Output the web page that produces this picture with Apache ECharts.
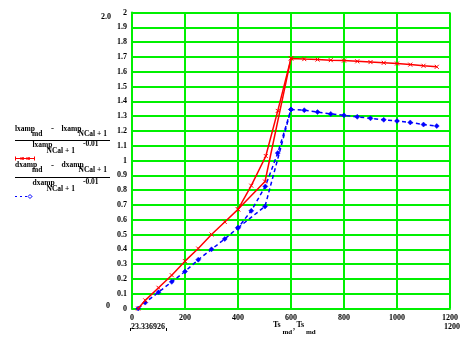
<!DOCTYPE html>
<html>
<head>
<meta charset="utf-8">
<script src="https://cdn.jsdelivr.net/npm/echarts@6/dist/echarts.min.js"></script>
<style>
html,body{margin:0;padding:0;background:#fff;}
#c{width:474px;height:337px;}
</style>
</head>
<body>
<div id="c"></div>
<script>
// ---- data ----
var xTicks = [0, 200, 400, 600, 800, 1000, 1200];
var redX = [23.336926, 50, 100, 150, 200, 250, 300, 350, 400, 450, 505, 550, 600, 650, 700, 750, 800, 850, 900, 950, 1000, 1050, 1100, 1150];
var redY = [0, 0.055, 0.14, 0.225, 0.32, 0.405, 0.5, 0.585, 0.67, 0.83, 1.03, 1.335, 1.69, 1.685, 1.682, 1.678, 1.675, 1.67, 1.665, 1.66, 1.655, 1.648, 1.64, 1.633];
var redBranchX = [400, 502, 600];
var redBranchY = [0.67, 0.858, 1.69];
var blueX = [23.336926, 50, 100, 150, 200, 250, 300, 350, 400, 450, 503, 550, 600, 650, 700, 750, 800, 850, 900, 950, 1000, 1050, 1100, 1150];
var blueY = [0, 0.04, 0.11, 0.18, 0.25, 0.33, 0.4, 0.47, 0.545, 0.66, 0.825, 1.05, 1.345, 1.34, 1.327, 1.315, 1.305, 1.295, 1.285, 1.275, 1.267, 1.257, 1.243, 1.233];
var blueBranchX = [400, 502, 600];
var blueBranchY = [0.545, 0.69, 1.345];

function zip(a, b) { return a.map(function (v, i) { return [v, b[i]]; }); }

var F = '"Liberation Serif", "Times New Roman", serif';
var GREEN = '#00f000';
var RED = '#ff0000';
var BLUE = '#0000ff';
var xSym = 'path://M0,0L10,10M10,0L0,10';

function txt(x, y, s, size, align) {
  return {
    type: 'text', x: x, y: y, silent: true,
    style: { text: s, font: 'bold ' + size + 'px ' + F, fill: '#000',
      textAlign: align || 'left', textVerticalAlign: 'middle', verticalAlign: 'middle' }
  };
}
function ln(x1, y1, x2, y2, color, w, dash) {
  return { type: 'line', silent: true, shape: { x1: x1, y1: y1, x2: x2, y2: y2 },
    style: { stroke: color, lineWidth: w, lineDash: dash || null } };
}
function xmark(cx, cy, r, color) {
  return { type: 'polyline', silent: true,
    shape: { points: [[cx - r, cy - r], [cx + r, cy + r], [cx, cy], [cx + r, cy - r], [cx - r, cy + r]] },
    style: { stroke: color, lineWidth: 1, fill: null } };
}

var M = 7.5, S = 7.5;
var graphic = [
  // left legend (Mathcad y-axis expressions)
  txt(15, 129, 'lxamp', M), txt(32, 134, 'md', S), txt(51, 129, '-', 9),
  txt(61.5, 129, 'lxamp', M), txt(78.5, 134, 'NCal + 1', S),
  ln(15, 140.5, 110, 140.5, '#000', 1),
  txt(32.5, 145.5, 'lxamp', M), txt(46.5, 151.5, 'NCal + 1', S), txt(83, 144, '-0.01', S),
  ln(15, 158.5, 35, 158.5, RED, 1),
  ln(15.5, 156.5, 15.5, 160.5, RED, 1), ln(34.5, 156.5, 34.5, 160.5, RED, 1),
  xmark(22, 158.5, 1.5, RED), xmark(28, 158.5, 1.5, RED),
  txt(15, 165.5, 'dxamp', M), txt(32, 170.5, 'md', S), txt(51, 165.5, '-', 9),
  txt(61.5, 165.5, 'dxamp', M), txt(78.5, 170.5, 'NCal + 1', S),
  ln(15, 177.5, 110, 177.5, '#000', 1),
  txt(32.5, 183.3, 'dxamp', M), txt(46.5, 189, 'NCal + 1', S), txt(83, 182, '-0.01', S),
  ln(15, 196.5, 35, 196.5, BLUE, 1, [2, 3]),
  { type: 'polygon', silent: true, shape: { points: [[30, 194.5], [32, 196.5], [30, 198.5], [28, 196.5]] },
    style: { fill: '#fff', stroke: BLUE, lineWidth: 1 } },
  // axis limit labels
  txt(111, 17, '2.0', 8, 'right'), txt(110, 306, '0', 8, 'right'),
  txt(131, 326.7, '23.336926', 8, 'left'),
  ln(130.5, 328, 130.5, 331, '#000', 1), ln(166.5, 328, 166.5, 331, '#000', 1),
  txt(452, 326.7, '1200', 8, 'center'),
  // x axis title
  txt(273, 325, 'Ts', 8), txt(282.5, 332.5, 'md', 7), txt(293, 327, ',', 8),
  txt(296.5, 325, 'Ts', 8), txt(306, 332.5, 'md', 7)
];

var chart = echarts.init(document.getElementById('c'), null, { renderer: 'canvas' });
chart.setOption({
  animation: false,
  backgroundColor: '#fff',
  grid: { left: 132, top: 12.5, width: 318, height: 296, containLabel: false },
  xAxis: {
    type: 'value', min: xTicks[0], max: xTicks[xTicks.length - 1], interval: 200,
    axisLine: { show: true, lineStyle: { color: GREEN, width: 2 } },
    axisTick: { show: false },
    splitLine: { show: true, lineStyle: { color: GREEN, width: 2 } },
    axisLabel: { margin: 5, color: '#000', fontFamily: F, fontWeight: 'bold', fontSize: 8,
      showMinLabel: true, showMaxLabel: true, hideOverlap: false,
      formatter: function (v) { return String(v); } }
  },
  yAxis: {
    type: 'value', min: 0, max: 2, interval: 0.1,
    axisLine: { show: true, lineStyle: { color: GREEN, width: 2 } },
    axisTick: { show: false },
    splitLine: { show: true, lineStyle: { color: GREEN, width: 2 } },
    axisLabel: { margin: 5, color: '#000', fontFamily: F, fontWeight: 'bold', fontSize: 8,
      showMinLabel: true, showMaxLabel: true, hideOverlap: false,
      formatter: function (v) { return String(Math.round(v * 10) / 10); } }
  },
  series: [
    { type: 'line', data: zip(redX, redY), showAllSymbol: true, symbol: xSym, symbolSize: 4,
      lineStyle: { color: RED, width: 1.5 }, itemStyle: { color: RED, borderColor: RED, borderWidth: 1 }, z: 3 },
    { type: 'line', data: zip(redBranchX, redBranchY), showAllSymbol: true, symbol: xSym, symbolSize: 4,
      lineStyle: { color: RED, width: 1.5 }, itemStyle: { color: RED, borderColor: RED, borderWidth: 1 }, z: 3 },
    { type: 'line', data: zip(blueX, blueY), showAllSymbol: true, symbol: 'diamond', symbolSize: 5,
      lineStyle: { color: BLUE, width: 1.5, type: [4, 3] }, itemStyle: { color: BLUE, borderColor: BLUE, borderWidth: 0.5 }, z: 2 },
    { type: 'line', data: zip(blueBranchX, blueBranchY), showAllSymbol: true, symbol: 'diamond', symbolSize: 5,
      lineStyle: { color: BLUE, width: 1.5, type: [4, 3] }, itemStyle: { color: BLUE, borderColor: BLUE, borderWidth: 0.5 }, z: 2 }
  ],
  graphic: graphic
});
</script>
</body>
</html>
